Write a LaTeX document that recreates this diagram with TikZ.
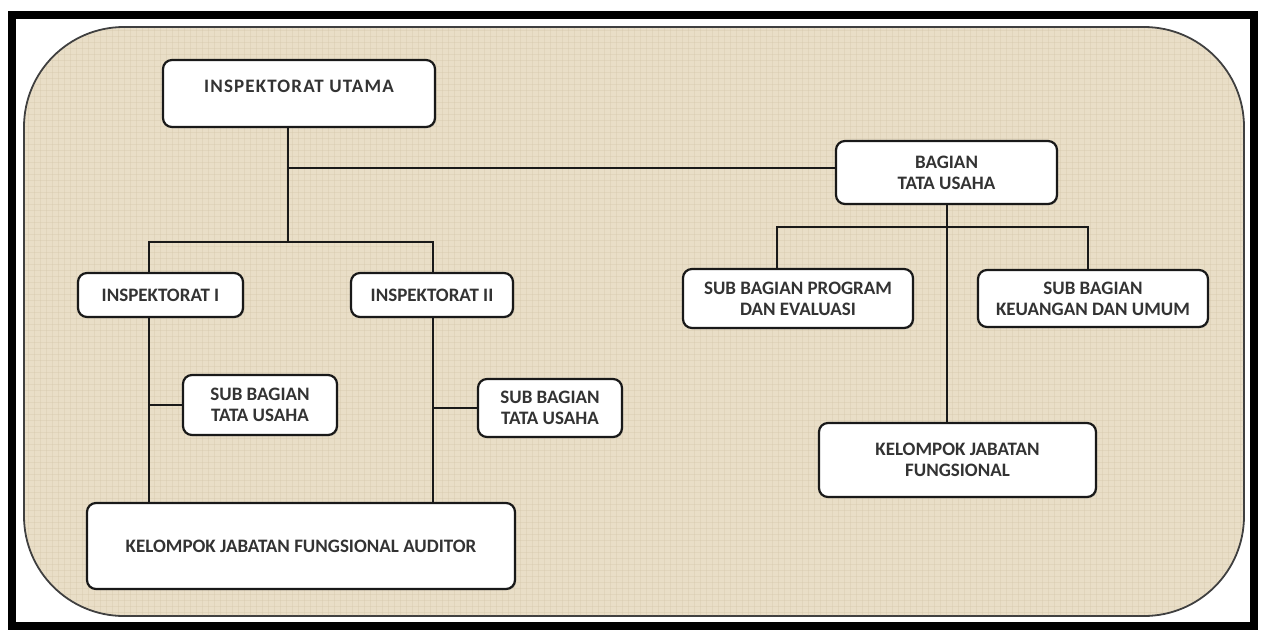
\documentclass[tikz,border=0pt]{standalone}
\usepackage{fontspec}
\setmainfont{Carlito}
\usetikzlibrary{shadows}
\definecolor{linen}{RGB}{233,222,199}
\definecolor{weave}{RGB}{214,200,172}

\begin{document}
\begin{tikzpicture}[x=1pt, y=-1pt]
		\tikzset{box/.style={shape = rectangle, rounded corners = 9pt, draw = black!90, line width = 2.2pt, fill = white, align = center, inner sep = 0pt, text = black!80, font = \bfseries\fontsize{19}{21}\selectfont, drop shadow = {shadow xshift = 1.2pt, shadow yshift = -1.2pt, opacity = 0.35}}}
		\tikzset{link/.style={draw = black!90, line width = 2.4pt}}
		\useasboundingbox (0, 0) rectangle (1266, 630);
		%frame
		\draw[line width = 8pt] (12, 15) rectangle (1254, 626);
		\draw[fill = linen, draw = black!75, line width = 1.8pt, rounded corners = 100pt] (24, 27) rectangle (1244, 616);
		\begin{scope}
			\clip[rounded corners = 100pt] (25, 28) rectangle (1243, 615);
			\foreach \x in {28, 34, ..., 1244} \draw[weave, line width = 0.5pt, opacity = 0.4] (\x, 27) -- (\x, 616);
			\foreach \y in {30, 36, ..., 616} \draw[weave, line width = 0.5pt, opacity = 0.4] (24, \y) -- (1244, \y);
		\end{scope}
		%boxes
		\node[box, minimum width = 272pt, minimum height = 67pt, text depth = 14pt] (utama) at (299, 93.5) {\addfontfeature{LetterSpace=6}INSPEKTORAT UTAMA};
		\node[box, minimum width = 221pt, minimum height = 63pt] (bagian) at (946.5, 172.5) {BAGIAN\\TATA USAHA};
		\node[box, minimum width = 165pt, minimum height = 44pt] (insp1) at (160.5, 295) {INSPEKTORAT I};
		\node[box, minimum width = 162pt, minimum height = 44pt] (insp2) at (432, 295) {INSPEKTORAT II};
		\node[box, minimum width = 154pt, minimum height = 60pt] (sub1) at (260, 405) {SUB BAGIAN\\TATA USAHA};
		\node[box, minimum width = 144pt, minimum height = 58pt] (sub2) at (550, 408) {SUB BAGIAN\\TATA USAHA};
		\node[box, minimum width = 428pt, minimum height = 86pt] (auditor) at (301, 546) {KELOMPOK JABATAN FUNGSIONAL AUDITOR};
		\node[box, minimum width = 230pt, minimum height = 59pt] (program) at (798, 298.5) {SUB BAGIAN PROGRAM\\DAN EVALUASI};
		\node[box, minimum width = 230pt, minimum height = 57pt] (keuangan) at (1093, 298.5) {SUB BAGIAN\\KEUANGAN DAN UMUM};
		\node[box, minimum width = 277pt, minimum height = 74pt] (fungsional) at (957.5, 460) {KELOMPOK JABATAN\\FUNGSIONAL};
		%junctions
		\coordinate (hub) at (288, 242);
		\coordinate (tu) at (288, 168);
		\coordinate (a1) at (149, 242);
		\coordinate (a2) at (433, 242);
		\coordinate (b0) at (947, 227);
		\coordinate (b1) at (777, 227);
		\coordinate (b2) at (1088, 227);
		%lines
		\draw[link] (utama.south -| hub) -- (hub);
		\draw[link] (tu) -- (tu -| bagian.west);
		\draw[link] (a1 |- insp1.north) -- (a1) -- (a2) -- (a2 |- insp2.north);
		\draw[link] (a1 |- insp1.south) -- (a1 |- auditor.north);
		\draw[link] (a1 |- sub1.west) -- (sub1.west);
		\draw[link] (a2 |- insp2.south) -- (a2 |- auditor.north);
		\draw[link] (a2 |- sub2.west) -- (sub2.west);
		\draw[link] (bagian.south -| b0) -- (b0 |- fungsional.north);
		\draw[link] (b1 |- program.north) -- (b1) -- (b2) -- (b2 |- keuangan.north);
\end{tikzpicture}
\end{document}
